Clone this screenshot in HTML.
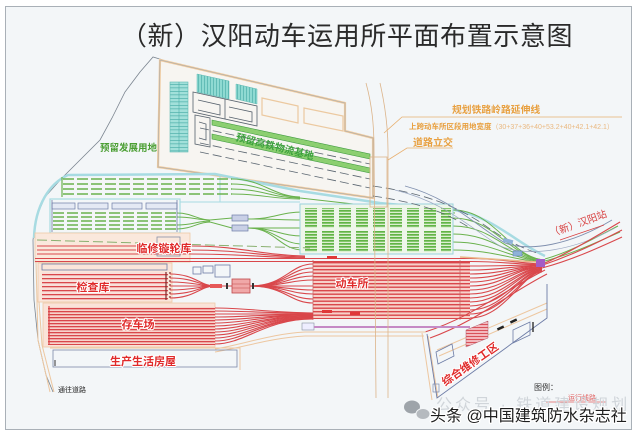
<!DOCTYPE html>
<html><head><meta charset="utf-8"><style>
html,body{margin:0;padding:0;background:#fff;width:640px;height:436px;overflow:hidden}
svg{display:block}
</style></head><body>
<svg width="640" height="436" viewBox="0 0 640 436" xmlns="http://www.w3.org/2000/svg" font-family="'Liberation Sans','Noto Sans CJK SC',sans-serif">
<defs>
<pattern id="r35" width="10" height="3.5" x="0" y="262" patternUnits="userSpaceOnUse"><rect width="10" height="3.5" fill="#f7d0c9"/><rect width="10" height="1.4" fill="#d9474b"/></pattern>
<pattern id="r3" width="10" height="3" x="0" y="308" patternUnits="userSpaceOnUse"><rect width="10" height="3" fill="#f7d3cb"/><rect width="10" height="1.3" fill="#d9474b"/></pattern>
<pattern id="r4" width="10" height="4" x="0" y="274" patternUnits="userSpaceOnUse"><rect width="10" height="4" fill="#f9e0da"/><rect width="10" height="1.3" fill="#d9474b"/></pattern>
<pattern id="gs" width="10" height="3" patternUnits="userSpaceOnUse"><rect width="10" height="3" fill="#dcefd0"/><rect width="10" height="1.7" fill="#62b446"/></pattern>
<pattern id="tealh" width="10" height="3.5" patternUnits="userSpaceOnUse"><rect width="10" height="3.5" fill="#a2e0da"/><rect width="10" height="0.7" fill="#4fb0aa"/></pattern>
<pattern id="tealv" width="3" height="10" patternUnits="userSpaceOnUse"><rect width="3" height="10" fill="#8fdad2"/><rect width="0.7" height="10" fill="#4fb0aa"/></pattern>
<pattern id="pinkst" width="4" height="3" patternUnits="userSpaceOnUse"><rect width="4" height="3" fill="#f3b8bd"/><rect width="4" height="1" fill="#d8525a"/></pattern>
</defs>

<rect width="640" height="436" fill="#fff"/>
<rect x="5.5" y="6.5" width="626" height="423" fill="#f3f6f8" stroke="#a9b0b7"/>
<text x="347" y="45" font-size="26" fill="#2a2a2a" text-anchor="middle" letter-spacing="0.6">（新）汉阳动车运用所平面布置示意图</text>

<!-- site boundary -->
<polyline points="163,60 153,57 140,72 125,92 112,118 100,140 82,158 62,178 45,197 36,218 33,240 34,300 38,340 46,375 53,392" fill="none" stroke="#7b8590" stroke-width="0.8"/>

<!-- upper parcel -->
<polygon points="160,60 345,103 345,131 373,138 373,198 158,167" fill="#f7f5f1" stroke="#efcba0" stroke-width="2.2"/>
<polygon points="160,60 345,103 345,131 373,138 373,198 158,167" fill="none" stroke="#9aa4ae" stroke-width="0.5"/>
<rect x="170" y="82" width="18" height="70" fill="url(#tealh)" stroke="#5fb9b3" stroke-width="0.6"/>
<line x1="179" y1="82" x2="179" y2="152" stroke="#4fb0aa" stroke-width="0.6"/>
<polygon points="197,74 229,81 229,99 197,92" fill="url(#tealv)" stroke="#5fb9b3" stroke-width="0.5"/>
<polygon points="236,84 257,89 257,104 236,99" fill="url(#tealv)" stroke="#5fb9b3" stroke-width="0.5"/>
<g fill="none" stroke="#56616c" stroke-width="0.8">
<polygon points="193,92 257,106 257,126 193,112"/>
<line x1="225" y1="99" x2="225" y2="119"/>
<polyline points="198,100 220,105 220,115 198,110"/>
<polyline points="229,107 252,112 252,122 229,117"/>
<polygon points="195,115 210,118 210,147 195,144"/>
<polyline points="199,122 206,124 206,140 199,138"/>
</g>
<g fill="none" stroke="#ecc9a0" stroke-width="1.2">
<polygon points="262,98 298,106 298,123 262,115"/>
<polygon points="304,108 343,116 343,131 304,123"/>
</g>
<polygon points="212,120 370,154 370,159 212,125" fill="#8ccf70" stroke="#3f9a3f" stroke-width="0.6"/>
<polygon points="212,134 370,168 370,173 212,139" fill="#8ccf70" stroke="#3f9a3f" stroke-width="0.6"/>
<g stroke="#5a6570" stroke-width="0.8" fill="none" stroke-dasharray="9,4">
<line x1="200" y1="128" x2="370" y2="164"/>
<line x1="200" y1="143" x2="370" y2="179"/>
<line x1="200" y1="152" x2="370" y2="188"/>
</g>
<text x="275" y="150" font-size="10" font-weight="bold" fill="#3da23d" text-anchor="middle" transform="rotate(14 275 146)">预留高铁物流基地</text>
<text x="100" y="151" font-size="9.5" font-weight="bold" fill="#4a9e32">预留发展用地</text>

<!-- green yard boundary -->
<path d="M34,238 C35,205 50,183 68,175 L215,174 L300,191 L380,203 L455,210 C495,218 515,242 545,256" fill="none" stroke="#a7dbe2" stroke-width="2.5"/>
<rect x="50" y="199" width="130" height="34" fill="none" stroke="#a7dbe2" stroke-width="1.2"/>
<line x1="180" y1="202" x2="300" y2="202" stroke="#a7dbe2" stroke-width="1"/>
<line x1="220" y1="176" x2="220" y2="202" stroke="#a7dbe2" stroke-width="1"/>
<g stroke="#6ab24d" stroke-width="1.4" stroke-dasharray="11,3" fill="none">
<line x1="63" y1="179" x2="232" y2="179"/>
<line x1="63" y1="184" x2="232" y2="184"/>
<line x1="63" y1="189" x2="232" y2="189"/>
<line x1="63" y1="194" x2="232" y2="194"/>
<line x1="53" y1="213" x2="177" y2="213"/>
<line x1="53" y1="217" x2="177" y2="217"/>
<line x1="53" y1="221" x2="177" y2="221"/>
<line x1="53" y1="225" x2="177" y2="225"/>
<line x1="53" y1="229" x2="177" y2="229"/>
</g>
<line x1="62" y1="177" x2="62" y2="197" stroke="#6ab24d" stroke-width="1.2"/>
<g stroke="#6ab24d" stroke-width="1" fill="none">
<path d="M232,179 C262,179 272,196 300,197"/>
<path d="M232,184 C262,184 272,197 300,197"/>
<path d="M232,189 C262,189 272,198 300,198"/>
<path d="M232,194 C262,194 272,199 300,199"/>
<path d="M300,198 L380,207 L455,213"/>
<path d="M177,213 C192,213 198,220 210,220 L232,218"/>
<path d="M177,217 C192,217 198,220 210,220"/>
<path d="M177,225 C192,225 198,221 210,221"/>
<path d="M177,229 C192,229 198,222 210,222 L232,228"/>
<path d="M248,219 C275,219 280,212 303,212"/>
<path d="M248,219 C275,219 280,220 303,220"/>
<path d="M248,228 C275,228 280,228 303,228"/>
<path d="M248,228 C275,228 280,236 303,236"/>
<path d="M248,228 C275,228 280,244 303,244"/>
<path d="M248,228 C275,228 280,250 303,250"/>
<path d="M453,210 C495,210 510,258 545,260"/>
<path d="M453,218 C495,218 510,258 545,260"/>
<path d="M453,226 C495,226 510,259 545,260"/>
<path d="M453,234 C495,234 510,259 545,261"/>
<path d="M453,242 C495,242 510,260 545,261"/>
<path d="M453,250 C495,250 510,260 545,262"/>
<path d="M545,259 C570,252 595,238 618,226"/>
<path d="M545,261 C572,254 597,242 620,232"/>
</g>
<g fill="#e4e9f4" stroke="#6d7ca6" stroke-width="0.7">
<rect x="52" y="203" width="23" height="6"/>
<rect x="78" y="203" width="30" height="6"/>
<rect x="112" y="203" width="30" height="6"/>
<rect x="146" y="203" width="31" height="6"/>
<rect x="232" y="215" width="16" height="6" fill="#c9d0e6"/>
<rect x="232" y="225" width="16" height="6" fill="#c9d0e6"/>
</g>
<line x1="52" y1="200" x2="52" y2="232" stroke="#6d7ca6" stroke-width="0.8"/>
<line x1="177" y1="200" x2="177" y2="232" stroke="#6d7ca6" stroke-width="0.8"/>

<!-- big green yard -->
<rect x="300" y="204" width="153" height="50" fill="#eef6ea" stroke="#9bd3dd" stroke-width="1"/>
<g fill="url(#gs)">
<rect x="305" y="208" width="12" height="20"/><rect x="322" y="208" width="12" height="20"/><rect x="339" y="208" width="12" height="20"/><rect x="356" y="208" width="12" height="20"/><rect x="373" y="208" width="12" height="20"/><rect x="390" y="208" width="12" height="20"/><rect x="407" y="208" width="12" height="20"/><rect x="424" y="208" width="12" height="20"/><rect x="441" y="208" width="10" height="20"/>
<rect x="305" y="231" width="12" height="21"/><rect x="322" y="231" width="12" height="21"/><rect x="339" y="231" width="12" height="21"/><rect x="356" y="231" width="12" height="21"/><rect x="373" y="231" width="12" height="21"/><rect x="390" y="231" width="12" height="21"/><rect x="407" y="231" width="12" height="21"/><rect x="424" y="231" width="12" height="21"/><rect x="441" y="231" width="10" height="21"/>
</g>

<!-- gray railway lines right -->
<g fill="none" stroke="#5a6570" stroke-width="0.8" stroke-dasharray="9,4">
<path d="M373,186 C420,193 450,203 480,222 C500,236 515,246 540,254"/>
<path d="M373,196 C420,203 445,212 470,228"/>
</g>
<path d="M405,186 C450,198 475,225 505,243 C530,252 570,245 612,220" fill="none" stroke="#7f8fae" stroke-width="0.9"/>
<path d="M395,190 C445,202 470,228 500,246 C530,258 575,250 615,228" fill="none" stroke="#9aa8c2" stroke-width="0.7"/>

<!-- red zone -->
<rect x="35" y="233" width="155" height="29" fill="#fae8dc" stroke="#eec9a6" stroke-width="0.8"/>
<line x1="37" y1="240" x2="310" y2="248" stroke="#8ab070" stroke-width="1" stroke-dasharray="10,4"/>
<g stroke="#d9474b" stroke-width="1.1" fill="none">
<path d="M37,246 L190,246 C240,246 260,255 305,256"/>
<path d="M37,250 L190,250 C240,250 260,256 305,257"/>
<path d="M37,254 L190,254 C240,254 260,257 305,258"/>
<path d="M35,258.5 L470,258.5 C500,258.5 515,263 542,264"/>
<path d="M35,261.5 L470,261.5 C500,261.5 515,264 542,265"/>
</g>
<rect x="157" y="237" width="23" height="19" fill="none" stroke="#8890a8" stroke-width="0.8"/>

<rect x="38" y="263" width="134" height="39" fill="#fae6da" stroke="#eec9a6" stroke-width="0.8"/>
<rect x="42" y="264" width="125" height="6" fill="none" stroke="#6d7ca6" stroke-width="0.8"/>
<rect x="42" y="272" width="126" height="28" fill="url(#r4)"/>
<line x1="166" y1="272" x2="166" y2="300" stroke="#7a2a2a" stroke-width="1.2"/>
<line x1="170" y1="272" x2="170" y2="300" stroke="#7a2a2a" stroke-width="1.2" stroke-dasharray="2,2"/>
<g stroke="#d9474b" stroke-width="1.1" fill="none">
<path d="M170,274 C195,274 200,286 215,286"/>
<path d="M170,278 C195,278 200,286 215,286"/>
<path d="M170,282 C195,282 200,286 215,286"/>
<path d="M170,286 L215,286"/>
<path d="M170,290 C195,290 200,286 215,286"/>
<path d="M170,294 C195,294 200,286 215,286"/>
<path d="M170,298 C195,298 200,286 215,286"/>
<line x1="215" y1="286" x2="232" y2="286"/>
<path d="M250,286 C285,286 290,264 313,264"/>
<path d="M250,286 C285,286 290,268 313,268"/>
<path d="M250,286 C285,286 290,272 313,272"/>
<path d="M250,286 C285,286 290,276 313,276"/>
<path d="M250,286 C285,286 290,280 313,280"/>
<path d="M250,286 L313,286"/>
<path d="M250,286 C285,286 290,290 313,290"/>
<path d="M250,286 C285,286 290,294 313,294"/>
<path d="M250,286 C285,286 290,299 313,299"/>
<path d="M250,286 C285,286 290,303 313,303"/>
</g>
<rect x="210" y="284" width="12" height="4" fill="#e65858"/>
<rect x="226" y="283" width="2" height="6" fill="#333"/>
<rect x="232" y="279" width="18" height="14" fill="#f0a8a8" stroke="#c0474a" stroke-width="0.8"/>
<line x1="232" y1="284" x2="250" y2="284" stroke="#c0474a" stroke-width="0.6"/>
<line x1="232" y1="288" x2="250" y2="288" stroke="#c0474a" stroke-width="0.6"/>
<rect x="252" y="283" width="2" height="6" fill="#333"/>
<g fill="none" stroke="#6d7ca6" stroke-width="0.8">
<rect x="193" y="267" width="8" height="7"/>
<rect x="203" y="266" width="10" height="7"/>
<rect x="215" y="265" width="15" height="12"/>
</g>

<!-- 动车所 -->
<rect x="313" y="262" width="157" height="57" fill="url(#r35)"/>
<line x1="313" y1="260" x2="313" y2="320" stroke="#c86060" stroke-width="0.7"/>
<line x1="460" y1="260" x2="460" y2="320" stroke="#c86060" stroke-width="0.7"/>
<g stroke="#d9474b" stroke-width="1.1" fill="none">
<path d="M470,266 C505,266 515,265 542,265"/>
<path d="M470,270 C505,270 515,265 542,266"/>
<path d="M470,274 C505,274 515,266 542,266"/>
<path d="M470,278 C505,278 515,266 542,267"/>
<path d="M470,282 C505,282 515,267 542,267"/>
<path d="M470,286 C505,286 515,267 542,268"/>
<path d="M470,290 C505,290 518,268 542,268"/>
<path d="M470,294 C505,294 518,268 542,269"/>
<path d="M470,298 C505,298 520,269 542,269"/>
<path d="M470,302 C505,302 520,269 542,270"/>
<path d="M470,306 C505,306 522,270 542,270"/>
<path d="M470,310 C505,310 522,270 542,271"/>
<path d="M470,314 C505,314 524,271 542,271"/>
<path d="M470,318 C505,318 524,271 542,272"/>
<path d="M425,332 C470,318 505,290 545,270"/>
<path d="M430,338 C475,322 508,294 547,274"/>
<path d="M540,265 C565,255 590,240 620,222"/>
<path d="M540,266 C570,256 595,244 622,230"/>
<path d="M542,268 C572,260 598,248 622,237"/>
</g>
<rect x="327" y="256" width="10" height="3" fill="#e03838"/>
<rect x="322" y="310" width="10" height="3" fill="#e03838"/>
<rect x="350" y="312" width="10" height="3" fill="#e03838"/>
<line x1="460" y1="257" x2="537" y2="262" stroke="#eab78a" stroke-width="1.5"/>
<rect x="536" y="259" width="9" height="8" fill="#a35dc6"/>
<rect x="503" y="239" width="10" height="4" fill="#8fb2d8" transform="rotate(15 508 241)"/>
<rect x="513" y="251" width="9" height="5" fill="#8fb2d8" stroke="#5a7ab0" stroke-width="0.5"/>

<!-- 存车场 -->
<rect x="43" y="303" width="172" height="44" fill="#fae3d8" stroke="#eec9a6" stroke-width="0.8"/>
<rect x="48" y="307" width="167" height="38" fill="url(#r3)"/>
<line x1="49" y1="306" x2="49" y2="345" stroke="#d9474b" stroke-width="1.2"/>
<g stroke="#d9474b" stroke-width="1.1" fill="none">
<path d="M215,308 C245,308 265,312 313,313"/>
<path d="M215,311 C245,311 265,313 313,313"/>
<path d="M215,314 C245,314 265,314 313,314"/>
<path d="M215,317 C245,317 265,314 313,315"/>
<path d="M215,320 C245,320 265,315 313,315"/>
<path d="M215,323 C245,323 265,315 313,316"/>
<path d="M215,326 C245,326 265,316 313,316"/>
<path d="M215,329 C245,329 265,316 313,317"/>
<path d="M215,332 C245,332 265,317 313,317"/>
<path d="M215,335 C245,335 265,317 313,318"/>
<path d="M215,338 C245,338 265,318 313,318"/>
<path d="M215,341 C245,341 265,318 313,319"/>
<path d="M215,344 C245,344 265,319 313,319"/>
</g>

<!-- beige roads / outlines -->
<g fill="none" stroke="#edc7a0" stroke-width="1">
<path d="M215,349 C245,344 270,334 305,332 L426,332"/>
<path d="M215,352 C245,347 270,338 305,336 L424,336"/>
<path d="M36,262 L38,340 L50,392"/>
<path d="M39,302 L42,345 L54,392"/>
<path d="M50,348 L240,348 L240,370"/>
<path d="M422,333 L432,400"/>
<path d="M428,336 L438,398"/>
<path d="M437,350 L547,303"/>
<path d="M439,356 L547,309"/>
</g>
<rect x="53" y="350" width="184" height="17" fill="none" stroke="#7c8aa8" stroke-width="0.8"/>
<line x1="55" y1="360" x2="55" y2="366" stroke="#333" stroke-width="1"/>
<rect x="302" y="323" width="12" height="7" fill="#eef" stroke="#8890a0" stroke-width="0.6"/>
<line x1="314" y1="327" x2="470" y2="327" stroke="#c58ac5" stroke-width="2"/>

<!-- 综合维修工区 -->
<polyline points="427,334 437,398 547,318 547,284" fill="none" stroke="#6d7ca6" stroke-width="0.9"/>
<polygon points="436,352 452,344 454,356 438,364" fill="none" stroke="#6d7ca6" stroke-width="0.8"/>
<polygon points="466,330 488,321 488,338 466,347" fill="url(#pinkst)" stroke="#b06070" stroke-width="0.5"/>
<rect x="497" y="327" width="7" height="2.5" fill="#222" transform="rotate(-25 500 328)"/>
<rect x="510" y="320" width="7" height="2.5" fill="#222" transform="rotate(-25 513 321)"/>
<polygon points="513,330 530,322 530,335 513,343" fill="none" stroke="#6d7ca6" stroke-width="0.8"/>
<line x1="533" y1="322" x2="533" y2="332" stroke="#222" stroke-width="1.3"/>
<rect x="433" y="384" width="6" height="8" fill="none" stroke="#6d7ca6" stroke-width="0.6"/>

<!-- overpass road -->
<g fill="none" stroke="#dcb48a" stroke-width="0.8">
<path d="M366,83 C372,105 374,125 374,150 L376,398"/>
<path d="M380,83 C385,105 388,125 388,150 L388,398"/>
<rect x="370" y="157" width="17" height="50"/>
</g>

<!-- labels -->
<g font-weight="bold" fill="#e02a2a" stroke="#fff" stroke-width="2" paint-order="stroke" stroke-linejoin="round" text-anchor="middle">
<text x="164" y="252" font-size="11">临修镟轮库</text>
<text x="93" y="291" font-size="11">检查库</text>
<text x="352" y="287" font-size="11">动车所</text>
<text x="138" y="328" font-size="11">存车场</text>
<text x="143" y="365" font-size="11">生产生活房屋</text>
<text x="470" y="368" font-size="11" transform="rotate(-35 470 364)">综合维修工区</text>
</g>
<text x="578" y="227" font-size="10" fill="#d84040" text-anchor="middle" transform="rotate(-20 578 223)">（新）汉阳站</text>
<line x1="560" y1="240" x2="604" y2="225" stroke="#d84040" stroke-width="0.7"/>

<!-- annotations -->
<polyline points="384,133 402,117 622,117" fill="none" stroke="#e8b070" stroke-width="0.8"/>
<polyline points="388,160 407,148 453,148" fill="none" stroke="#e8b070" stroke-width="0.8"/>
<text x="452" y="113" font-size="9.8" font-weight="bold" fill="#e8a040">规划铁路岭路延伸线</text>
<text x="409" y="129" font-size="7.5" font-weight="bold" fill="#e8a040">上跨动车所区段用地宽度<tspan font-weight="normal" font-size="7" fill="#eab982">（30+37+36+40+53.2+40+42.1+42.1）</tspan></text>
<text x="413" y="146" font-size="10" font-weight="bold" fill="#e8a040">道路立交</text>

<text x="58" y="392" font-size="7" fill="#222">通往道路</text>
<text x="534" y="390" font-size="8" fill="#333">图例：</text>
<text x="568" y="400" font-size="7" fill="#e06060">运行线路</text>
<line x1="546" y1="402" x2="606" y2="402" stroke="#e06060" stroke-width="0.8"/>

<!-- watermark -->
<ellipse cx="412" cy="407" rx="8" ry="6.5" fill="#9ea4aa"/>
<ellipse cx="423" cy="414" rx="7" ry="5.5" fill="#b5babf" stroke="#f3f6f8" stroke-width="1"/>
<text x="436" y="410" font-size="16" fill="#d0d5da" letter-spacing="3">公众号 · 铁道建设规划</text>
<text x="430" y="421" font-size="16" fill="#1e1e1e" stroke="#fff" stroke-width="2.5" paint-order="stroke" stroke-linejoin="round">头条 @中国建筑防水杂志社</text>
</svg>
</body></html>
